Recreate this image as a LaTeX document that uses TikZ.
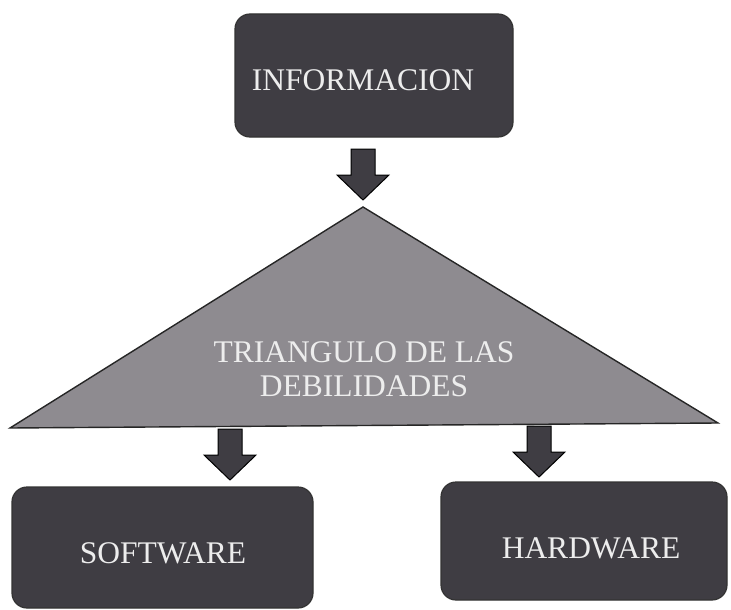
\documentclass[tikz,border=0pt]{standalone}
\usepackage{fontspec}
\setmainfont{Liberation Serif}
\definecolor{boxfill}{HTML}{3F3D43}
\definecolor{trifill}{HTML}{8E8B90}
\definecolor{txt}{HTML}{EDEDED}
\begin{document}
\begin{tikzpicture}[x=1pt,y=-1pt,
  box/.style={draw=black!80, line width=1.2pt, fill=boxfill, rounded corners=15pt},
  lbl/.style={text=txt, font=\fontsize{31.5}{34}\selectfont, inner sep=0pt},
  barrow/.style={draw=black, line width=1pt, fill=boxfill, line join=miter},
  pics/downarr/.style={code={
    \draw[barrow] (-12,0) -- (12,0) -- (12,26) -- (26,26) -- (0,51) -- (-26,26) -- (-12,26) -- cycle;}}]
\useasboundingbox (0,0) rectangle (731,610);
% boxes
\draw[box] (235,14) rectangle (513,137);
\node[lbl] (info) at (363,80) {INFORMACION};
\draw[box] (12,487) rectangle (313,608);
\node[lbl] (soft) at (163,553) {SOFTWARE};
\draw[box] (441,482) rectangle (727,600);
\node[lbl] (hard) at (591,548) {HARDWARE};
% triangle
\draw[line width=1.4pt, draw=black!85, fill=trifill, line join=miter] (363,207) -- (718,423) -- (10,428) -- cycle;
\node[lbl, align=center, font=\fontsize{31.5}{34}\selectfont] (tri) at (364,369) {TRIANGULO DE LAS\\DEBILIDADES};
% block arrows
\pic at (363,149) {downarr};
\pic at (230,429) {downarr};
\pic at (539,426) {downarr};
\end{tikzpicture}
\end{document}
